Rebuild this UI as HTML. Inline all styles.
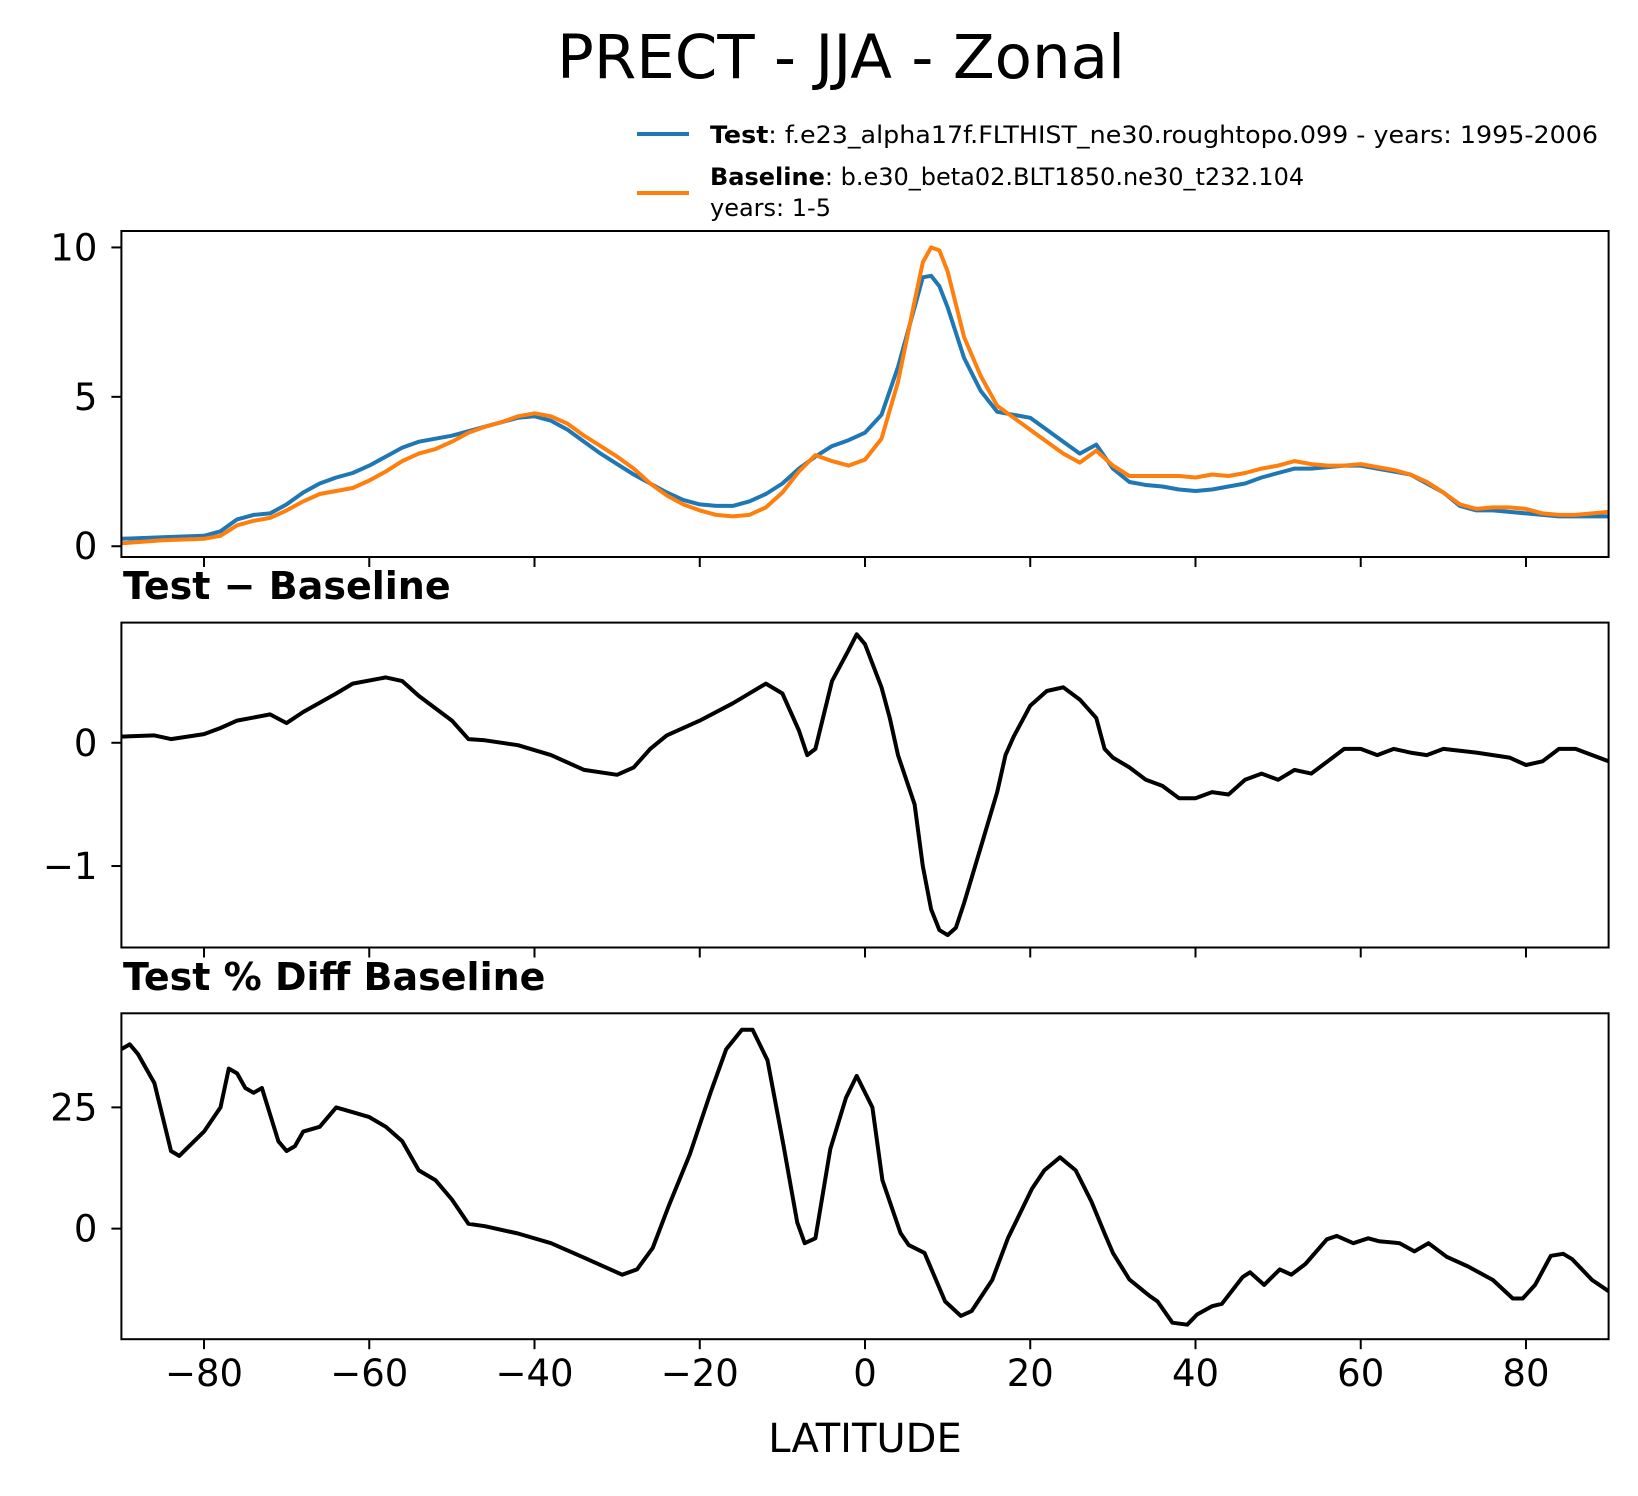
<!DOCTYPE html>
<html><head><meta charset="utf-8"><style>
html,body{margin:0;padding:0;background:#fff}
svg{display:block;font-family:"DejaVu Sans","Liberation Sans",sans-serif}
</style></head><body>
<svg id="fig" width="1638" height="1496" viewBox="0 0 1638 1496" xmlns="http://www.w3.org/2000/svg">
<text x="841" y="78" font-size="61" text-anchor="middle">PRECT - JJA - Zonal</text>
<g font-size="24">
 <line x1="637" y1="134" x2="689" y2="134" stroke="#1f77b4" stroke-width="4"/>
 <text x="710" y="143" textLength="888" lengthAdjust="spacingAndGlyphs"><tspan font-weight="bold">Test</tspan>: f.e23_alpha17f.FLTHIST_ne30.roughtopo.099 - years: 1995-2006</text>
 <line x1="637" y1="193" x2="689" y2="193" stroke="#ff7f0e" stroke-width="4"/>
 <text x="710" y="185"><tspan font-weight="bold">Baseline</tspan>: b.e30_beta02.BLT1850.ne30_t232.104</text>
 <text x="710" y="216">years: 1-5</text>
</g>
<text x="123" y="599" font-size="38" font-weight="bold">Test − Baseline</text>
<text x="123" y="990" font-size="38" font-weight="bold">Test % Diff Baseline</text>
<text x="865" y="1452" font-size="40" text-anchor="middle">LATITUDE</text>
<g id="plots"></g>
</svg>
<script>
const testLat=[-90,-85,-80,-78,-76,-74,-72,-70,-68,-66,-64,-62,-60,-58,-56,-54,-52,-50,-48,-46,-44,-42,-40,-38,-36,-34,-32,-30,-28,-26,-24,-22,-20,-18,-16,-14,-12,-10,-8,-6,-4,-2,0,2,4,6,7,8,9,10,12,14,16,18,20,22,24,26,28,30,32,34,36,38,40,42,44,46,48,50,52,54,56,58,60,62,64,66,68,70,72,74,76,78,80,82,84,86,88,90];
const testVal=[0.25,0.3,0.35,0.5,0.9,1.05,1.1,1.4,1.8,2.1,2.3,2.45,2.7,3.0,3.3,3.5,3.6,3.7,3.85,4.0,4.15,4.3,4.35,4.2,3.9,3.5,3.1,2.75,2.4,2.1,1.8,1.55,1.4,1.35,1.35,1.5,1.75,2.1,2.6,3.0,3.35,3.55,3.8,4.4,6.0,8.0,9.0,9.05,8.7,8.0,6.3,5.2,4.5,4.4,4.3,3.9,3.5,3.1,3.4,2.6,2.15,2.05,2.0,1.9,1.85,1.9,2.0,2.1,2.3,2.45,2.6,2.6,2.65,2.7,2.7,2.6,2.5,2.4,2.1,1.8,1.35,1.2,1.2,1.15,1.1,1.05,1.0,1.0,1.0,1.0];
const baseVal=[0.1,0.2,0.25,0.35,0.7,0.85,0.95,1.2,1.5,1.75,1.85,1.95,2.2,2.5,2.85,3.1,3.25,3.5,3.8,4.0,4.15,4.35,4.45,4.35,4.1,3.7,3.35,3.0,2.6,2.1,1.7,1.4,1.2,1.05,1.0,1.05,1.3,1.8,2.5,3.05,2.85,2.7,2.9,3.6,5.5,8.2,9.5,10.0,9.9,9.2,7.0,5.7,4.7,4.3,3.9,3.5,3.1,2.8,3.2,2.7,2.35,2.35,2.35,2.35,2.3,2.4,2.35,2.45,2.6,2.7,2.85,2.75,2.7,2.7,2.75,2.65,2.55,2.4,2.15,1.8,1.4,1.25,1.3,1.3,1.25,1.1,1.05,1.05,1.1,1.15];
const diffLat=[-90,-86,-84,-80,-78,-76,-72,-70,-68,-64,-62,-58,-56,-54,-50,-48,-46,-42,-38,-34,-30,-28,-26,-24,-20,-16,-12,-10,-8,-7,-6,-4,-2,-1,0,2,3,4,5,6,7,8,9,10,11,12,14,16,17,18,20,22,24,26,28,29,30,32,34,36,38,40,42,44,46,48,50,52,54,56,58,60,62,64,66,68,70,74,78,80,82,84,86,90];
const diffVal=[0.05,0.06,0.03,0.07,0.12,0.18,0.23,0.16,0.25,0.4,0.48,0.53,0.5,0.38,0.18,0.03,0.02,-0.02,-0.1,-0.22,-0.26,-0.2,-0.05,0.06,0.18,0.32,0.48,0.4,0.1,-0.1,-0.05,0.5,0.75,0.88,0.8,0.45,0.2,-0.1,-0.3,-0.5,-1.0,-1.35,-1.52,-1.56,-1.5,-1.3,-0.85,-0.4,-0.1,0.05,0.3,0.42,0.45,0.35,0.2,-0.05,-0.12,-0.2,-0.3,-0.35,-0.45,-0.45,-0.4,-0.42,-0.3,-0.25,-0.3,-0.22,-0.25,-0.15,-0.05,-0.05,-0.1,-0.05,-0.08,-0.1,-0.05,-0.08,-0.12,-0.18,-0.15,-0.05,-0.05,-0.15];
const pctLat=[-90,-89,-88,-86,-84,-83,-80,-78,-77,-76,-75,-74,-73,-71,-70,-69,-68,-66,-64,-62,-60,-58,-56,-54,-52,-50,-48,-46,-42,-38,-34,-29.4,-27.6,-25.7,-23.8,-21.2,-18.7,-16.8,-14.9,-13.6,-11.8,-9.9,-8.2,-7.3,-6,-4.2,-2.3,-1,0.9,2.1,4.3,5.3,7.2,9.7,11.6,12.9,15.4,17.3,20.2,21.7,23.6,25.5,27.4,29,30,32,34.4,35.4,37.2,39,40.2,42,43.2,45.7,46.6,48.3,50.2,51.6,53.3,55.9,57.1,59.1,60.9,62.2,64.7,66.5,68.2,70.4,73,76,78.4,79.6,81.1,83,84.5,85.6,88,90];
const pctVal=[37,38,36,30,16,15,20,25,33,32,29,28,29,18,16,17,20,21,25,24,23,21,18,12,10,6,1,0.5,-1,-3,-6,-9.5,-8.4,-4,4.5,15.3,28,37,41,41,34.7,17.5,1.3,-3,-2,16.4,27,31.5,25,10,-0.9,-3.4,-5,-15,-18,-17,-10.6,-2,8.2,12,14.7,12,5.6,-1,-5,-10.5,-13.8,-15,-19.4,-19.8,-17.7,-16,-15.5,-10,-9,-11.6,-8.4,-9.5,-7.3,-2.2,-1.5,-3,-2,-2.6,-3,-4.7,-3,-5.8,-7.8,-10.6,-14.4,-14.4,-11.6,-5.6,-5.2,-6.3,-10.6,-12.9];
const xTicks=[-80,-60,-40,-20,0,20,40,60,80];
const xTickLabels=["−80","−60","−40","−20","0","20","40","60","80"];
const p1Ticks=[0,5,10], p1Labels=["0","5","10"];
const p2Ticks=[0,-1], p2Labels=["0","−1"];
const p3Ticks=[0,25], p3Labels=["0","25"];

const NS="http://www.w3.org/2000/svg";
const g=document.getElementById('plots');
const X0=121.4,X1=1608.6;
function xs(l){return X0+(l+90)/180*(X1-X0);}
function mk(t,a){const e=document.createElementNS(NS,t);for(const k in a)e.setAttribute(k,a[k]);g.appendChild(e);return e;}
function panel(name,top,bot,ymin,ymax,yt,yl,series,showXLabels){
  const ys=v=>bot-(v-ymin)/(ymax-ymin)*(bot-top);
  series.forEach(s=>{
    const d=s.lat.map((l,i)=>(i?'L':'M')+xs(l).toFixed(1)+','+ys(s.val[i]).toFixed(1)).join('');
    const p=mk('path',{d:d,fill:'none',stroke:s.color,'stroke-width':4,'stroke-linejoin':'round'});
    
    
  });
  const r=mk('rect',{x:X0,y:top,width:X1-X0,height:bot-top,fill:'none',stroke:'#000','stroke-width':2});
  
  
  xTicks.forEach((t,i)=>{
    const tk=mk('line',{x1:xs(t),x2:xs(t),y1:bot,y2:bot+10,stroke:'#000','stroke-width':2});
    
    
    if(showXLabels){
      const tx=mk('text',{x:xs(t),y:bot+47,'font-size':37,'text-anchor':'middle'});
      tx.textContent=xTickLabels[i];
      
      
    }
  });
  yt.forEach((t,i)=>{
    const y=ys(t);
    const tk=mk('line',{x1:X0-10,x2:X0,y1:y,y2:y,stroke:'#000','stroke-width':2});
    
    
    const tx=mk('text',{x:X0-24,y:y+13,'font-size':37,'text-anchor':'end'});
    tx.textContent=yl[i];
    
    
  });
}
panel('zonal-panel',231,557,-0.36,10.55,p1Ticks,p1Labels,[
 {lat:testLat,val:testVal,color:'#1f77b4',name:'test-line'},
 {lat:testLat,val:baseVal,color:'#ff7f0e',name:'baseline-line'}],false);
panel('diff-panel',622.6,947.5,-1.661,0.975,p2Ticks,p2Labels,[
 {lat:diffLat,val:diffVal,color:'#000',name:'diff-line'}],false);
panel('pctdiff-panel',1013.3,1339.2,-22.8,44.4,p3Ticks,p3Labels,[
 {lat:pctLat,val:pctVal,color:'#000',name:'pctdiff-line'}],true);
</script>
</body></html>
